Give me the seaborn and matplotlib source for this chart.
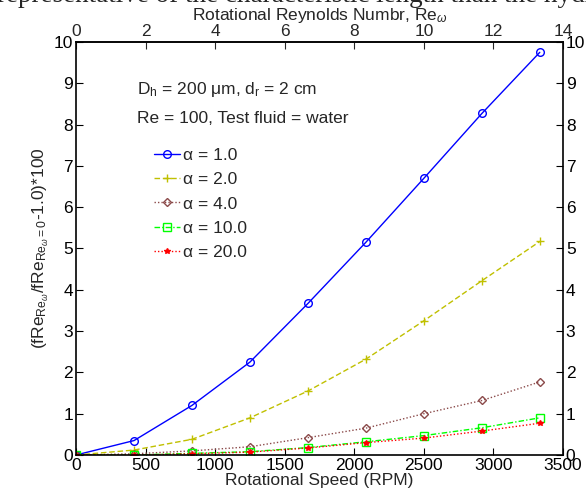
import matplotlib
matplotlib.use("Agg")
import matplotlib.pyplot as plt
import seaborn as sns
import pandas as pd
import numpy as np

# ---- data ----
rpm = [0, 417, 833, 1250, 1667, 2083, 2500, 2917, 3333]
alpha_labels = ["α = 1.0", "α = 2.0", "α = 4.0", "α = 10.0", "α = 20.0"]
a1 = [0, 0.35, 1.20, 2.25, 3.67, 5.15, 6.70, 8.27, 9.75]
a2 = [0, 0.12, 0.38, 0.90, 1.55, 2.32, 3.25, 4.22, 5.17]
a4 = [0, 0.03, 0.10, 0.20, 0.42, 0.65, 1.00, 1.32, 1.77]
a10 = [0, 0.00, 0.04, 0.08, 0.18, 0.32, 0.47, 0.66, 0.90]
a20 = [0, 0.00, 0.03, 0.07, 0.17, 0.30, 0.41, 0.58, 0.77]
series = [a1, a2, a4, a10, a20]
x_ticks = [0, 500, 1000, 1500, 2000, 2500, 3000, 3500]
y_ticks = [0, 1, 2, 3, 4, 5, 6, 7, 8, 9, 10]
re_ticks = [0, 2, 4, 6, 8, 10, 12, 14]
rpm_per_re = 250.0

colors = ["#0000ff", "#c0c000", "#8b4a4a", "#00ff00", "#ff0000"]
linestyles = ["-", (0, (4, 2)), (0, (1, 1.5)), (0, (4, 1.5, 1, 1.5)), (0, (1, 1.5))]
markers = ["o", "+", "D", "s", "*"]
msizes = [5.5, 6, 4.5, 6, 4]

sns.set_theme(style="white")
plt.rcParams["font.family"] = ["Liberation Sans", "DejaVu Sans"]
plt.rcParams["mathtext.fontset"] = "custom"
plt.rcParams["mathtext.rm"] = "Liberation Sans"
plt.rcParams["mathtext.it"] = "Liberation Sans:italic"

fig = plt.figure(figsize=(5.86, 5.01), dpi=100)
ax = fig.add_axes([0.1297, 0.0918, 0.8311, 0.8244])

fs = 12.5
for vals, lab, c, ls, mk, ms in zip(series, alpha_labels, colors, linestyles, markers, msizes):
    df = pd.DataFrame({"rpm": rpm, "val": vals})
    sns.lineplot(data=df, x="rpm", y="val", ax=ax, color=c, linewidth=1.0,
                 marker=mk, markersize=ms, markerfacecolor="none" if mk not in ("+", "*") else c,
                 markeredgecolor=c, markeredgewidth=1.0, label=lab)
    ax.lines[-1].set_linestyle(ls)

ax.set_xlim(0, 3500)
ax.set_ylim(0, 10)
ax.set_xticks(x_ticks)
ax.set_yticks(y_ticks)
ax.set_xticklabels([str(v) for v in x_ticks], fontsize=fs)
ax.set_yticklabels([str(v) for v in y_ticks], fontsize=fs)
ax.tick_params(direction="in", length=5, width=0.8, colors="black", pad=2,
               left=True, bottom=True, right=True, labelright=True)
ax.set_xlabel("Rotational Speed (RPM)", fontsize=fs, labelpad=0)
ax.set_ylabel(r"(fRe$_{\mathrm{Re}_{\omega}}$/fRe$_{\mathrm{Re}_{\omega}\mathrm{=0}}$-1.0)*100",
              fontsize=fs, labelpad=2)
for s in ax.spines.values():
    s.set_visible(True)
    s.set_color("black")
    s.set_linewidth(1.2)

sec = ax.secondary_xaxis("top", functions=(lambda x: x / rpm_per_re, lambda r: r * rpm_per_re))
sec.set_xticks(re_ticks)
sec.set_xticklabels([str(v) for v in re_ticks], fontsize=fs)
sec.tick_params(direction="in", length=5, width=0.8, pad=2)
sec.set_xlabel(r"Rotational Reynolds Numbr, Re$_{\omega}$", fontsize=fs, labelpad=3)

ax.text(440, 8.75, r"D$_{\mathrm{h}}$ = 200 $\mathrm{\mu}$m, d$_{\mathrm{r}}$ = 2 cm", fontsize=fs)
ax.text(440, 8.05, "Re = 100, Test fluid = water", fontsize=fs)

leg = ax.legend(loc="upper left", bbox_to_anchor=(0.145, 0.76), frameon=False, fontsize=fs,
                handlelength=1.5, handletextpad=0.2, labelspacing=0.52, borderaxespad=0)

fig.text(-0.005, 1 - 2.5 / 501, "representative of the characteristic length than the hydr",
         family="Liberation Serif", fontsize=19.5, va="baseline", ha="left")

fig.savefig("out.png", dpi=100)
